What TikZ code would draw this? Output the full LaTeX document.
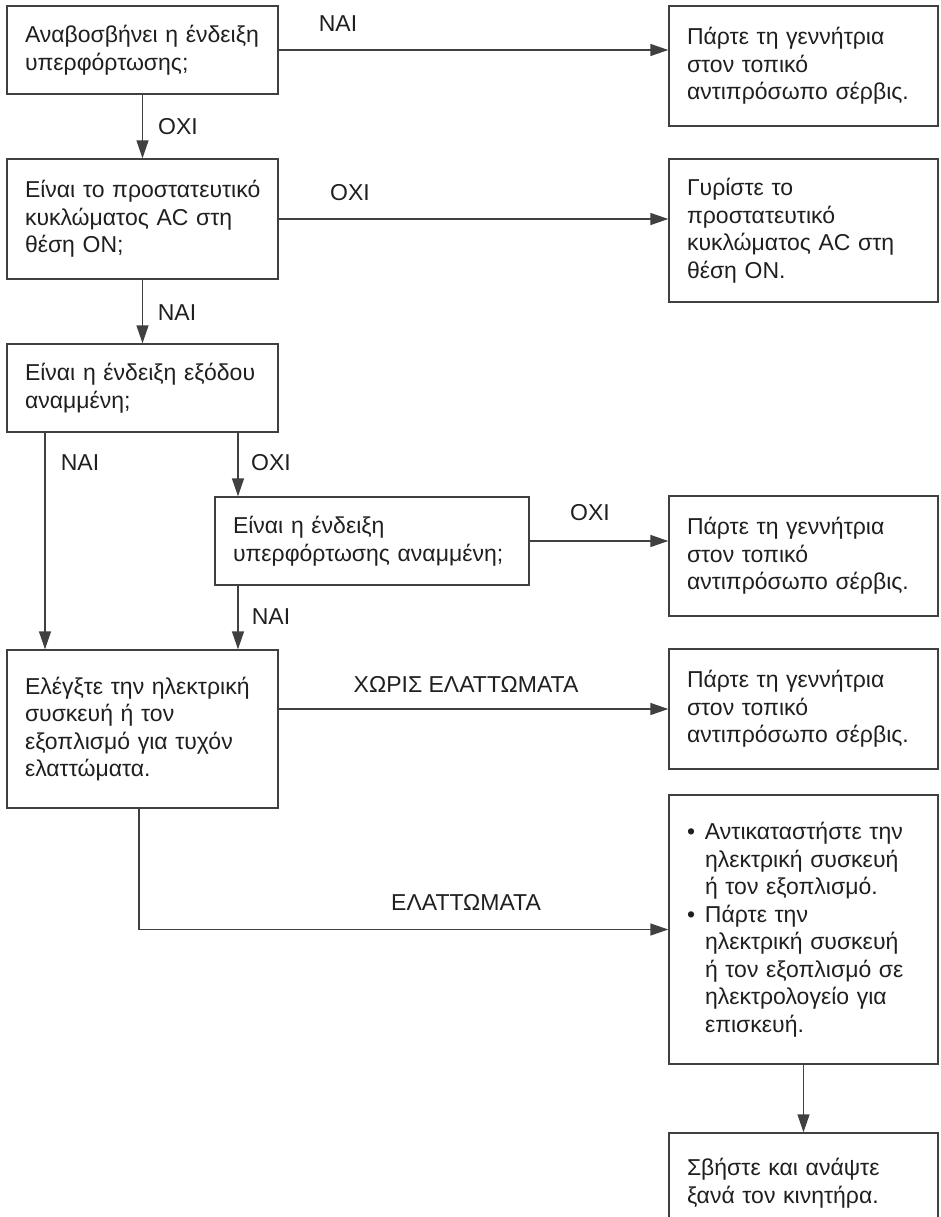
\documentclass[tikz,border=0pt]{standalone}
\usepackage{fontspec}
\setmainfont{Liberation Sans}
\usetikzlibrary{arrows.meta}
\begin{document}
\begin{tikzpicture}[x=1pt,y=-1pt,
  box/.style={draw=black!75, line width=1.4pt, text=black!88, align=left,
    inner xsep=18pt, inner ysep=0pt, text width=#1-36pt, minimum width=#1,
    font=\fontsize{23}{27.5}\selectfont},
  box/.default=271pt,
  lbl/.style={text=black!88, inner sep=0pt, font=\fontsize{23}{27.5}\selectfont},
  arr/.style={draw=black!75, line width=1.4pt, -{Triangle[length=18pt,width=12pt]}},
  lin/.style={draw=black!75, line width=1.4pt}]
\useasboundingbox (0,0) rectangle (940,1217);
% left column
\node[box, minimum height=88pt] (b1) at (142.5,50) {Αναβοσβήνει~η~ένδειξη\\ υπερφόρτωσης;};
\node[box, minimum height=120pt] (b2) at (142.5,219) {Είναι~το~προστατευτικό\\ κυκλώματος~AC~στη\\ θέση~ON;};
\node[box, minimum height=88pt] (b3) at (142.5,388) {Είναι~η~ένδειξη~εξόδου\\ αναμμένη;};
\node[box=314pt, minimum height=88pt] (b4) at (372,541) {Είναι~η~ένδειξη\\ υπερφόρτωσης~αναμμένη;};
\node[box, minimum height=158pt] (b5) at (142.5,729) {Ελέγξτε~την~ηλεκτρική\\ συσκευή~ή~τον\\ εξοπλισμό~για~τυχόν\\ ελαττώματα.};
% right column
\node[box=269pt, minimum height=120pt] (r1) at (803.5,66) {Πάρτε~τη~γεννήτρια\\ στον~τοπικό\\ αντιπρόσωπο~σέρβις.};
\node[box=269pt, minimum height=143pt] (r2) at (803.5,230.5) {Γυρίστε~το\\ προστατευτικό\\ κυκλώματος~AC~στη\\ θέση~ON.};
\node[box=269pt, minimum height=120pt] (r3) at (803.5,556) {Πάρτε~τη~γεννήτρια\\ στον~τοπικό\\ αντιπρόσωπο~σέρβις.};
\node[box=269pt, minimum height=120pt] (r4) at (803.5,709) {Πάρτε~τη~γεννήτρια\\ στον~τοπικό\\ αντιπρόσωπο~σέρβις.};
\node[box=269pt, minimum height=269pt] (r5) at (803.5,929.5) {\makebox[18pt][l]{•}Αντικαταστήστε~την\\ \hspace*{18pt}ηλεκτρική~συσκευή\\ \hspace*{18pt}ή~τον~εξοπλισμό.\\ \makebox[18pt][l]{•}Πάρτε~την\\ \hspace*{18pt}ηλεκτρική~συσκευή\\ \hspace*{18pt}ή~τον~εξοπλισμό~σε\\ \hspace*{18pt}ηλεκτρολογείο~για\\ \hspace*{18pt}επισκευή.};
\node[box=269pt, minimum height=100pt] (r6) at (803.5,1183) {Σβήστε~και~ανάψτε\\ ξανά~τον~κινητήρα.};
% helper columns
\coordinate (xL) at (45,0);
\coordinate (xM) at (238,0);
\coordinate (xE) at (139,0);
% connectors
\draw[arr] (b1.east) -- (b1.east -| r1.west);
\draw[arr] (b1) -- (b2);
\draw[arr] (b2.east) -- (b2.east -| r2.west);
\draw[arr] (b2) -- (b3);
\draw[arr] (b3.south -| xL) -- (b5.north -| xL);
\draw[arr] (b3.south -| xM) -- (b4.north -| xM);
\draw[arr] (b4.east) -- (b4.east -| r3.west);
\draw[arr] (b4.south -| xM) -- (b5.north -| xM);
\draw[arr] (r4.west -| b5.east) -- (r4.west);
\draw[arr] (b5.south -| xE) |- (r5.west);
\draw[arr] (r5) -- (r6);
% labels
\node[lbl] (l1) at (338,24) {ΝΑΙ};
\node[lbl] (l2) at (178,126.5) {ΟΧΙ};
\node[lbl] (l3) at (350,193) {ΟΧΙ};
\node[lbl] (l4) at (177,312.5) {ΝΑΙ};
\node[lbl] (l5) at (80,463) {ΝΑΙ};
\node[lbl] (l6) at (271,463) {ΟΧΙ};
\node[lbl] (l7) at (590,513) {ΟΧΙ};
\node[lbl] (l8) at (271,617) {ΝΑΙ};
\node[lbl] (l9) at (466,684.5) {ΧΩΡΙΣ ΕΛΑΤΤΩΜΑΤΑ};
\node[lbl] (l10) at (466,902) {ΕΛΑΤΤΩΜΑΤΑ};
\end{tikzpicture}
\end{document}
